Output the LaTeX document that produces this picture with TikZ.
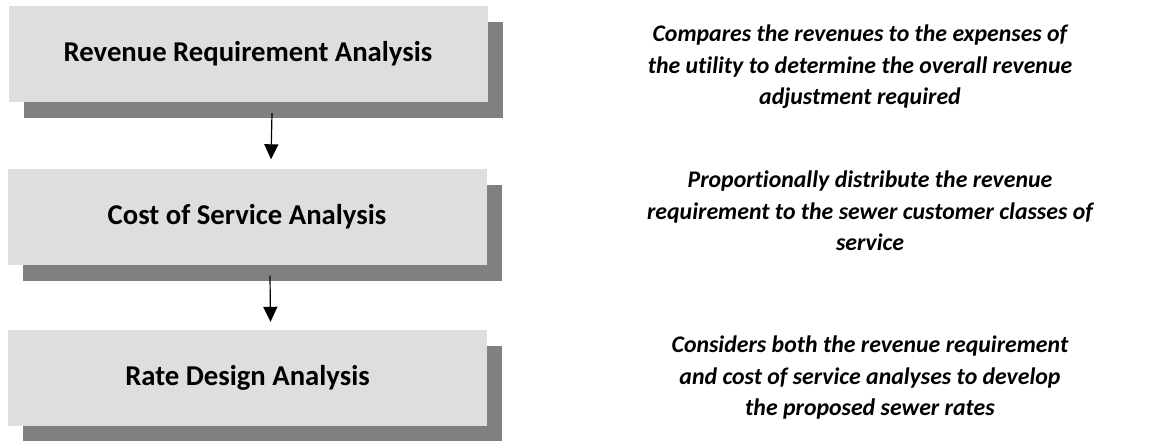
\documentclass[tikz,border=0pt]{standalone}
\usepackage{fontspec}
\setmainfont{Carlito}[Ligatures=NoCommon]
\usetikzlibrary{shadows,arrows.meta}
\definecolor{boxfill}{HTML}{DDDEE0}
\definecolor{shadowgray}{HTML}{808080}
\begin{document}
\begin{tikzpicture}[x=1pt,y=-1pt,
  stagebox/.style={fill=boxfill, minimum width=479pt, minimum height=96pt, inner sep=0pt,
    font=\fontsize{28.7}{34}\selectfont\bfseries,
    general shadow={fill=shadowgray, shadow xshift=15pt, shadow yshift=-16pt}},
  desc/.style={align=center, inner sep=0pt, font=\fontsize{23.8}{31.5}\selectfont\bfseries\itshape},
  arr/.style={line width=1.2pt, -{Triangle[width=14pt,length=15pt]}}]
\useasboundingbox (0,0) rectangle (1168,440);
\fill[white] (0,0) rectangle (1168,440);
\node[stagebox] (b1) at (248,54) {Revenue Requirement Analysis};
\node[stagebox] (b2) at (247,216.5) {Cost of Service Analysis};
\node[stagebox] (b3) at (247.5,378) {Rate Design Analysis};
\draw[arr] ([xshift=24pt,yshift=-11pt]b1.south) -- ([xshift=24pt,yshift=9pt]b2.north);
\draw[arr] ([xshift=23pt,yshift=-11pt]b2.south) -- ([xshift=23pt,yshift=8pt]b3.north);
\node[desc] (d1) at (860,67) {Compares the revenues to the expenses of\\the utility to determine the overall revenue\\adjustment required};
\node[desc] (d2) at (870,211) {Proportionally distribute the revenue\\requirement to the sewer customer classes of\\service};
\node[desc] (d3) at (870,378) {Considers both the revenue requirement\\and cost of service analyses to develop\\the proposed sewer rates};
\end{tikzpicture}
\end{document}
